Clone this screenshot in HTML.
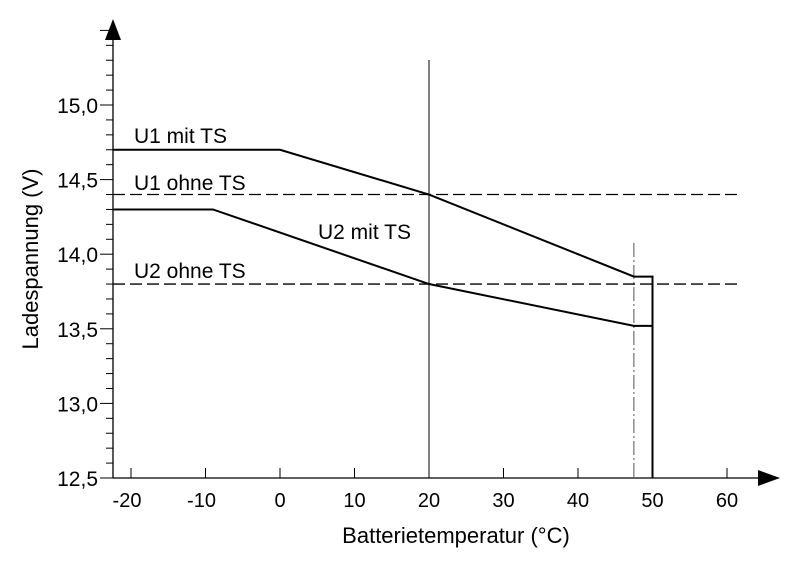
<!DOCTYPE html>
<html><head><meta charset="utf-8"><style>body{margin:0;background:#fff}svg{display:block;font-family:"Liberation Sans",Arial,sans-serif}</style></head>
<body>
<svg id="c" width="800" height="563" viewBox="0 0 800 563"></svg>
<script>
const xTicks=[-20,-10,0,10,20,30,40,50,60];
const yTicks=[12.5,13.0,13.5,14.0,14.5,15.0];
const yTickLabels=["12,5","13,0","13,5","14,0","14,5","15,0"];
const u1Temp=[-22.5,0,20,47.5,50,50];
const u1Volt=[14.7,14.7,14.4,13.85,13.85,12.5];
const u2Temp=[-22.5,-9,20,47.5,50];
const u2Volt=[14.3,14.3,13.8,13.52,13.52];
const refU1=14.4, refU2=13.8;
const markerTemp=20, limitTemp=47.5;
const X=t=>280+t*7.45;
const Y=v=>478-(v-12.5)*149.2;
const s=document.getElementById('c');const NS='http://www.w3.org/2000/svg';
function el(t,a,txt){const e=document.createElementNS(NS,t);for(const k in a)e.setAttribute(k,a[k]);if(txt!==undefined)e.textContent=txt;s.appendChild(e);return e;}
let e;
e=el('line',{x1:113,y1:478,x2:762,y2:478,stroke:'#000','stroke-width':1.3});


e=el('polygon',{points:'758,470 780,478 758,486',fill:'#000'});


e=el('line',{x1:113,y1:478,x2:113,y2:38,stroke:'#000','stroke-width':1.3});


e=el('polygon',{points:'105,40 113,19 121,40',fill:'#000'});


for(let i=0;i<=30;i++){const v=12.5+i*0.1;const major=i%5==0;
e=el('line',{x1:major?100:106,y1:Y(v),x2:113,y2:Y(v),stroke:'#000','stroke-width':1});

}
yTicks.forEach((v,i)=>{e=el('text',{x:98,y:Y(v)+8,'text-anchor':'end','font-size':21},yTickLabels[i]);

});
xTicks.forEach(t=>{e=el('line',{x1:X(t),y1:468,x2:X(t),y2:478,stroke:'#000','stroke-width':1});


e=el('text',{x:X(t)+(t<0?-4:0),y:507,'text-anchor':'middle','font-size':20},String(t));

});
e=el('text',{x:456,y:543,'text-anchor':'middle','font-size':22},'Batterietemperatur (°C)');


e=el('text',{x:0,y:0,'text-anchor':'middle','font-size':22,transform:'translate(38,259) rotate(-90)'},'Ladespannung (V)');


e=el('line',{x1:X(markerTemp),y1:60,x2:X(markerTemp),y2:478,stroke:'#000','stroke-width':1});


e=el('line',{x1:X(limitTemp),y1:243,x2:X(limitTemp),y2:478,stroke:'#555','stroke-width':1,'stroke-dasharray':'14,3,2,3'});


[[refU1,'u1-ohne-ts-line'],[refU2,'u2-ohne-ts-line']].forEach(r=>{e=el('line',{x1:113,y1:Y(r[0]),x2:737,y2:Y(r[0]),stroke:'#000','stroke-width':1.3,'stroke-dasharray':'12,5'});

});
e=el('polyline',{points:u1Temp.map((t,i)=>X(t)+','+Y(u1Volt[i])).join(' '),fill:'none',stroke:'#000','stroke-width':2});


e=el('polyline',{points:u2Temp.map((t,i)=>X(t)+','+Y(u2Volt[i])).join(' '),fill:'none',stroke:'#000','stroke-width':2});


[['U1 mit TS',134,143,'label-u1-mit-ts'],['U1 ohne TS',134,190,'label-u1-ohne-ts'],['U2 mit TS',318,239,'label-u2-mit-ts'],['U2 ohne TS',134,278,'label-u2-ohne-ts']].forEach(l=>{
e=el('text',{x:l[1],y:l[2],'font-size':21},l[0]);

});
</script>
</body></html>
